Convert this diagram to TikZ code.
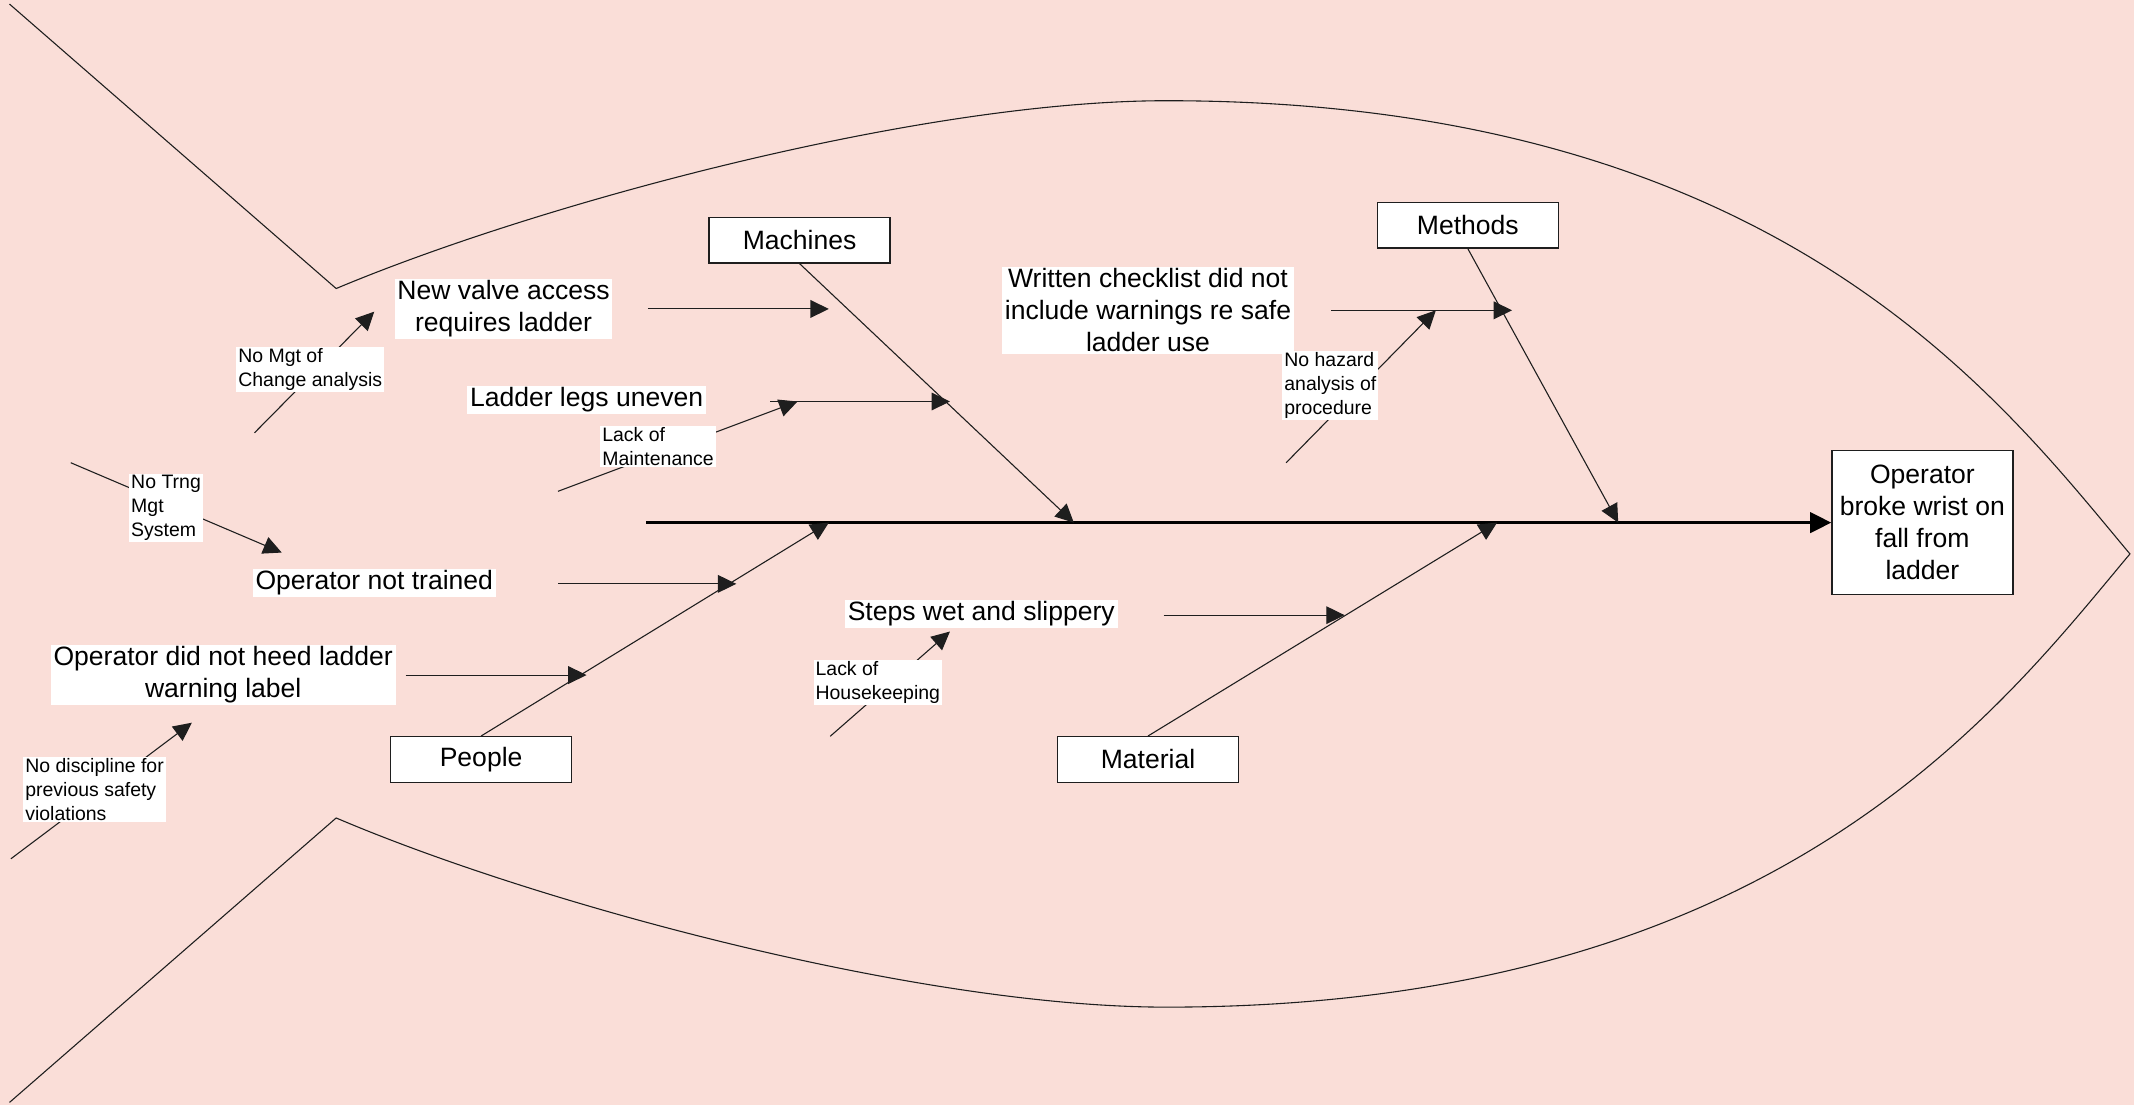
\documentclass[tikz,border=0pt]{standalone}
\usepackage{fontspec}
\setmainfont{Liberation Sans}
\usetikzlibrary{arrows.meta}
\definecolor{bgpink}{RGB}{250,222,216}
\definecolor{linegray}{RGB}{30,30,30}
\newcommand\fbig{\fontsize{19.5}{23.5}\selectfont}
\newcommand\fsmall{\fontsize{14.3}{17.6}\selectfont}
\begin{document}
\begin{tikzpicture}[x=1pt,y=-1pt,
  catbox/.style={draw=linegray, fill=white, line width=0.9pt, minimum width=133pt, minimum height=33.5pt, inner sep=0pt, font=\fbig},
  effbox/.style={draw=linegray, fill=white, line width=0.9pt, minimum width=133pt, minimum height=106pt, inner sep=0pt, align=center, font=\fbig},
  big/.style={fill=white, inner xsep=2pt, inner ysep=1.2pt, align=center, font=\fbig},
  small/.style={fill=white, inner xsep=1.5pt, inner ysep=1pt, align=left, font=\fsmall},
  bone/.style={draw=linegray, line width=0.8pt, -{Triangle[length=13.5pt,width=13pt]}},
  spine/.style={draw=black, line width=2.2pt, -{Triangle[length=15.5pt,width=15pt]}},
  outline/.style={draw=linegray, line width=0.8pt}]
\useasboundingbox (0,0) rectangle (1568,812);
\fill[bgpink] (0,0) rectangle (1568,812);
% fish outline
\draw[outline] (7,3) -- (247,212)
  .. controls (397,149) and (677,74) .. (857,74)
  .. controls (1307,74) and (1469,292.5) .. (1565,407)
  .. controls (1469,521.5) and (1307,740) .. (857,740)
  .. controls (677,740) and (397,665) .. (247,601) -- (7,810);
% boxes
\node[catbox] (mach) at (587.5,176.5) {Machines};
\node[catbox] (meth) at (1078.5,165.5) {Methods};
\node[catbox] (peop) at (353.5,558) {People};
\node[catbox] (matl) at (843.5,558) {Material};
\node[effbox] (eff) at (1412.5,384) {Operator\\broke wrist on\\fall from\\ladder};
% spine and bones
\coordinate (sp0) at (475,384);
\coordinate (m1) at (789,384);
\coordinate (t1) at (1189,384);
\coordinate (p1) at (609,384);
\coordinate (q1) at (1100,384);
\draw[spine] (sp0) -- (eff.west);
\draw[bone] (mach.south) -- (m1);
\draw[bone] (meth.south) -- (t1);
\draw[bone] (peop.north) -- (p1);
\draw[bone] (matl.north) -- (q1);
% sub-cause arrows
\coordinate (a1s) at (476,227);  \coordinate (a1e) at (609,227);
\coordinate (a2s) at (566,295);  \coordinate (a2e) at (698,295);
\coordinate (a3s) at (410,361);  \coordinate (a3e) at (586,295);
\coordinate (a4s) at (410,429);  \coordinate (a4e) at (541,429);
\coordinate (a5s) at (52,340);   \coordinate (a5e) at (207,406);
\coordinate (a6s) at (298,496);  \coordinate (a6e) at (431,496);
\coordinate (a7s) at (8,631);    \coordinate (a7e) at (141,531);
\coordinate (a8s) at (187,318);  \coordinate (a8e) at (275,229);
\coordinate (a9s) at (978,228);  \coordinate (a9e) at (1111,228);
\coordinate (a10s) at (945,340); \coordinate (a10e) at (1055,228);
\coordinate (a11s) at (855,452); \coordinate (a11e) at (988,452);
\coordinate (a12s) at (610,541); \coordinate (a12e) at (698,464);
\foreach \i in {1,...,12} {\draw[bone] (a\i s) -- (a\i e);}
% labels
\node[big] (nva) at (370,227) {New valve access\\requires ladder};
\node[big] (llu) at (431,294) {Ladder legs uneven};
\node[small] (lom) at (483.5,328) {Lack of\\Maintenance};
\node[big] (ont) at (275,428) {Operator not trained};
\node[small] (ntm) at (122,373) {No Trng\\Mgt\\System};
\node[big] (odn) at (164,496) {Operator did not heed ladder\\warning label};
\node[small] (ndp) at (69.5,580) {No discipline for\\previous safety\\violations};
\node[small] (nmc) at (228,271.5) {No Mgt of\\Change analysis};
\node[big] (wcl) at (843.5,228) {Written checklist did not\\include warnings re safe\\ladder use};
\node[small] (nha) at (977.5,283) {No hazard\\analysis of\\procedure};
\node[big] (sws) at (721,451) {Steps wet and slippery};
\node[small] (lhk) at (645,501.5) {Lack of\\Housekeeping};
\end{tikzpicture}
\end{document}
